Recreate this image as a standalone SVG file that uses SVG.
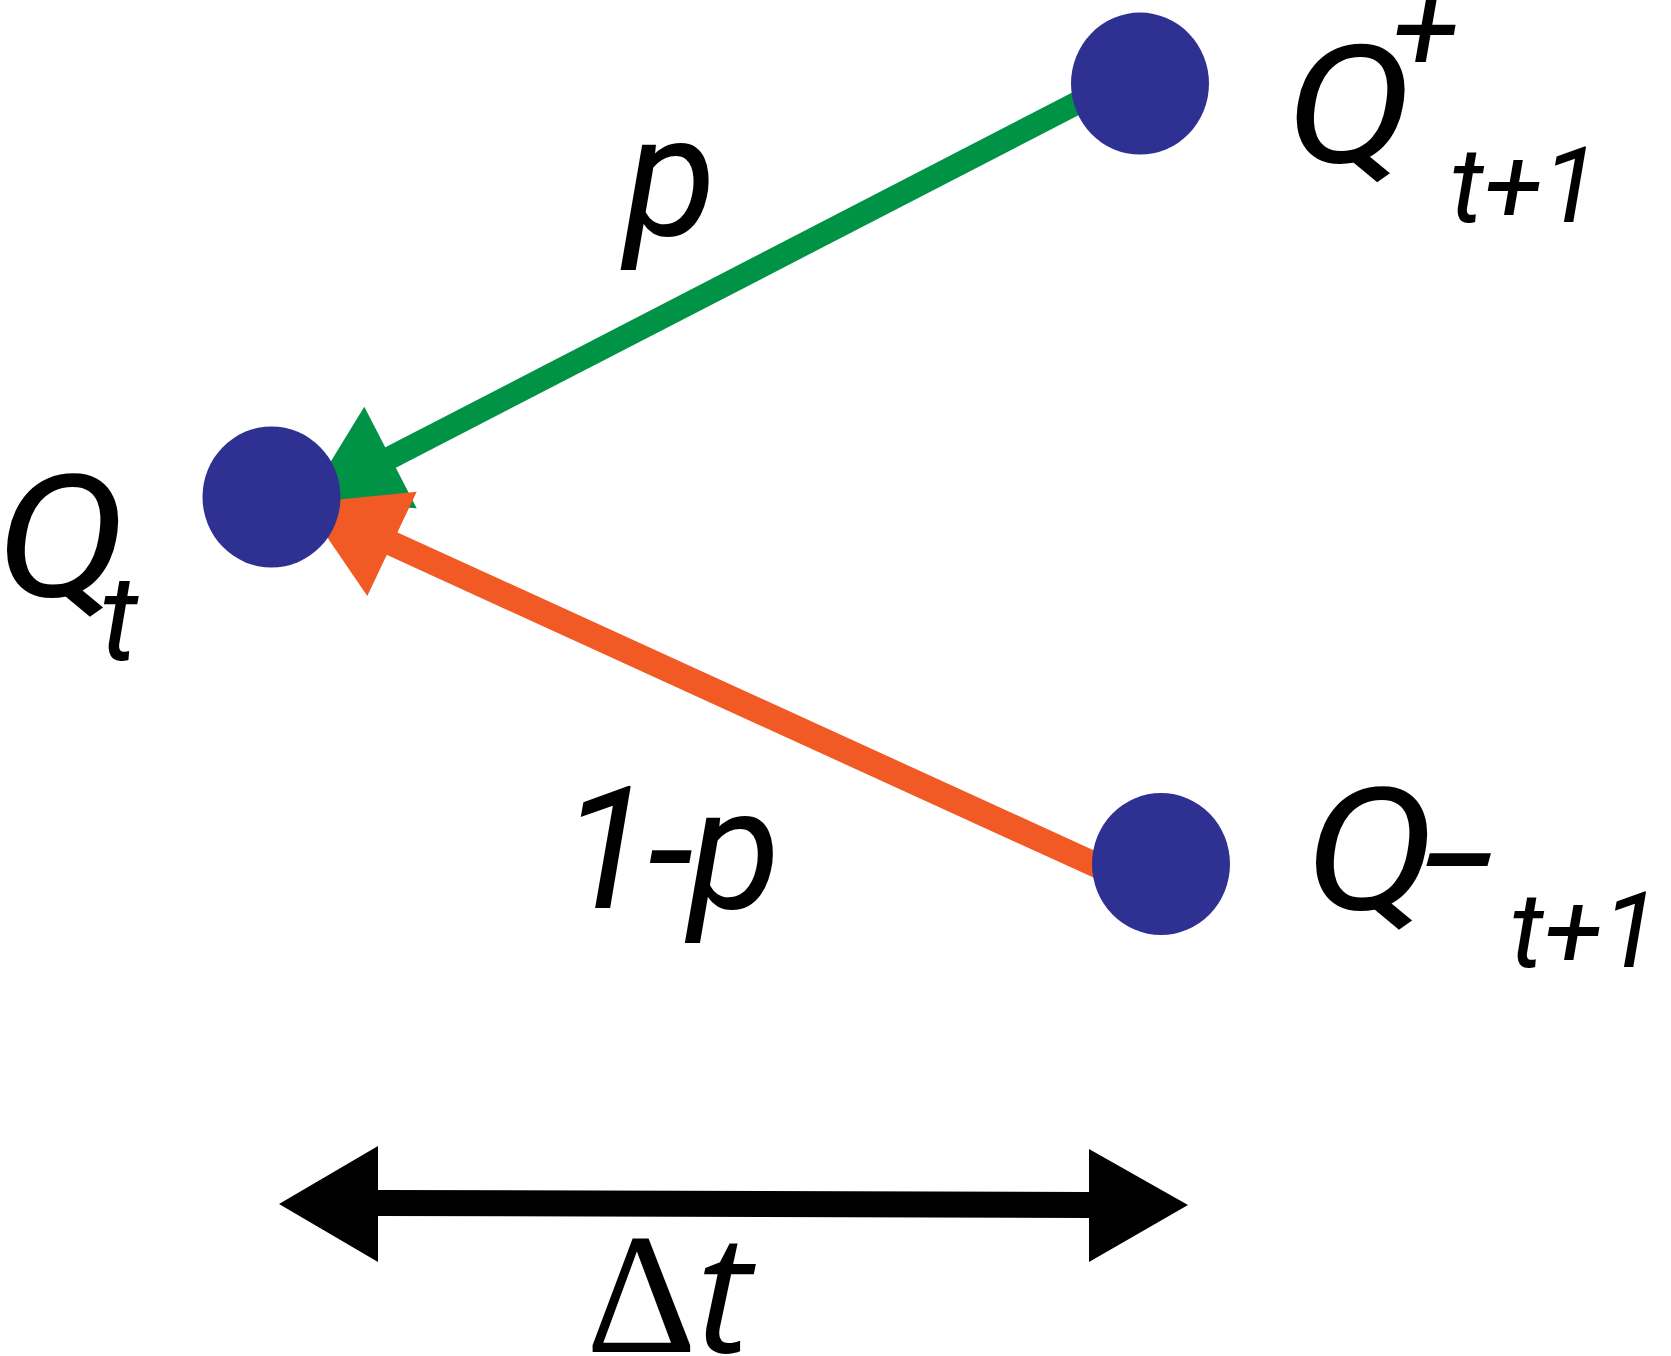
<svg xmlns="http://www.w3.org/2000/svg" width="1671" height="1356" viewBox="0 0 1671 1356">
<style>
.node{fill:#2E3192}
.lbl{font-family:Roboto, "Liberation Sans", sans-serif;font-style:italic;fill:#000}
</style>
<rect width="1671" height="1356" fill="#fff"/>
<g id="connectors">
<line x1="1110" y1="86" x2="380" y2="463" stroke="#009245" stroke-width="23"/>
<polygon points="306.3,501.6 364.3,406.7 416.7,508.3" fill="#009245"/>
<line x1="1120" y1="876" x2="382" y2="539" stroke="#F15A24" stroke-width="25"/>
<polygon points="303.7,502.9 416.7,491.7 367.3,596" fill="#F15A24"/>
<polygon points="279,1204 378,1146 378,1190 1089,1192 1089,1149 1188,1205 1089,1262 1089,1218 378,1216 378,1262" fill="#000"/>
</g>
<g id="node-qt">
<ellipse class="node" cx="271.5" cy="497" rx="69" ry="70.5"/>
<text class="lbl" font-size="170" transform="translate(-4,596) scale(1.15,1)">Q</text>
<text class="lbl" font-size="120" x="100" y="660">t</text>
</g>
<g id="node-qplus">
<ellipse class="node" cx="1140" cy="83.6" rx="69" ry="71"/>
<text class="lbl" font-size="165" transform="translate(1286,162) scale(1.15,1)">Q</text>
<text class="lbl" font-size="121" x="1392" y="71">+</text>
<text class="lbl" font-size="106" x="1450" y="222">t+1</text>
</g>
<g id="node-qminus">
<ellipse class="node" cx="1161" cy="864" rx="69" ry="71"/>
<text class="lbl" font-size="170" transform="translate(1305,909) scale(1.15,1)">Q</text>
<text class="lbl" font-size="170" transform="translate(1423,911) scale(1.55,1)">-</text>
<text class="lbl" font-size="106" x="1510" y="967">t+1</text>
</g>
<g id="labels">
<text class="lbl" font-size="170" x="624" y="235">p</text>
<text class="lbl" font-size="170" x="560" y="908" letter-spacing="-5">1-p</text>
<text x="586" y="1352" font-family="Liberation Serif, serif" font-size="172" fill="#000">Δ<tspan font-family="Open Sans, sans-serif" font-style="italic" font-size="165">t</tspan></text>
</g>
</svg>
